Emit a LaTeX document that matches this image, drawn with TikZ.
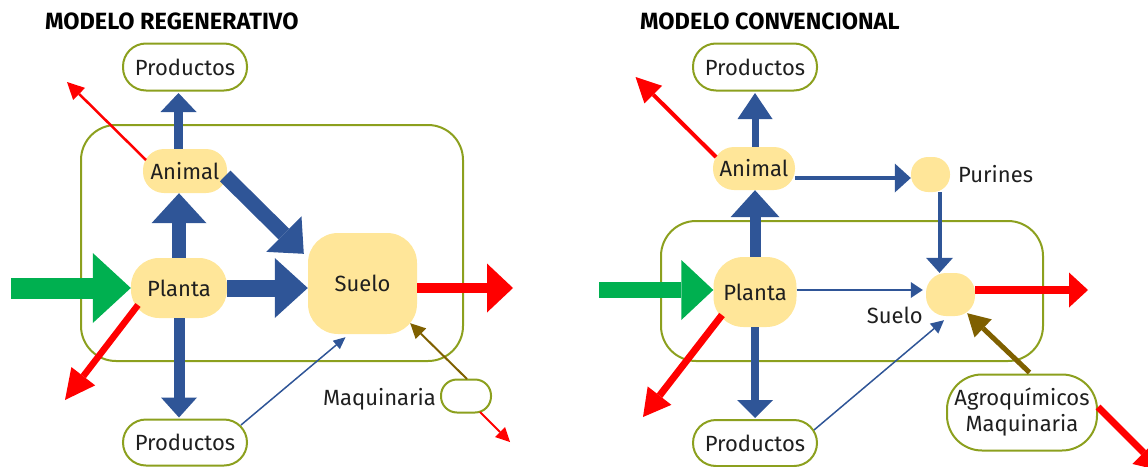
\documentclass[tikz,border=0pt]{standalone}
\usepackage{fontspec}
\setmainfont{Fira Sans}
\usetikzlibrary{arrows.meta,calc}
\definecolor{bl}{HTML}{2F5597}
\definecolor{yl}{HTML}{FFE699}
\definecolor{ol}{HTML}{8CA01E}
\definecolor{gr}{HTML}{00B050}
\definecolor{rd}{HTML}{FF0000}
\definecolor{br}{HTML}{7F6000}
\tikzset{
  arr/.style n args={3}{line width=#1, -{Triangle[length=#2,width=#3,line width=0pt]}},
  yel/.style={fill=yl, draw=none, inner sep=0pt, rounded corners=#1},
  pill/.style={fill=white, draw=ol, line width=2pt, inner sep=0pt, rounded corners=#1},
  sysbox/.style={draw=ol, line width=2pt, inner sep=0pt, rounded corners=35pt},
  title/.style={font=\bfseries\fontsize{23.5}{26}\selectfont, inner sep=0pt, text=black},
  lbl/.style={inner sep=0pt, text=black!88},
}
\begin{document}
\begin{tikzpicture}[x=1pt,y=-1pt, font=\fontsize{22}{26}\selectfont, text=black!88]
\useasboundingbox (0,0) rectangle (1148,466);
% ---------------- left: regenerativo ----------------
\node[title, anchor=west] (t1) at (45,21) {MODELO REGENERATIVO};
\node[sysbox, minimum width=382pt, minimum height=236pt] (sys1) at (272,243) {};
\node[pill=23pt, minimum width=124pt, minimum height=47pt] (prodT1) at (185,67) {Productos};
\node[yel=21pt, minimum width=84pt, minimum height=44pt] (animal1) at (185,171) {Animal};
\node[yel=28pt, minimum width=96pt, minimum height=60pt] (planta1) at (179,288) {Planta};
\node[yel=30pt, minimum width=109pt, minimum height=101pt] (suelo1) at (362.5,283.5) {Suelo};
\node[pill=23pt, minimum width=124pt, minimum height=46pt] (prodB1) at (185,442.5) {Productos};
\node[pill=16pt, minimum width=50pt, minimum height=33pt] (maq1) at (466,396) {};
\node[lbl, anchor=base east] (maqlbl1) at (436,405) {Maquinaria};
\coordinate (sun1) at (11,288);
\coordinate (out1) at (513,288);
\coordinate (loss1) at (65,400);
\coordinate (lossA1) at (67,82);
\coordinate (lossM1) at (510,442);

\draw[bl, arr={9pt}{19pt}{36pt}] ($(animal1.north)+(-6.5,0)$) -- ($(prodT1.south)+(-6.5,1.5)$);
\draw[bl, arr={14pt}{30pt}{55pt}] (planta1.north) -- (planta1.north |- animal1.south);
\draw[bl, arr={15pt}{28pt}{50pt}] ($(animal1.east)+(-2,5)$) -- ($(suelo1.north west)+(-4,21)$);
\draw[bl, arr={17pt}{33pt}{60pt}] (planta1.east) -- (planta1.east -| suelo1.west);
\draw[bl, arr={11pt}{20pt}{36pt}] (planta1.south) -- ($(planta1.south |- prodB1.north)+(0,-1)$);
\draw[gr, arr={21pt}{38pt}{70pt}] (sun1) -- (planta1.west);
\draw[rd, arr={10pt}{26pt}{49pt}] ($(suelo1.east)+(0,4.5)$) -- (out1);
\draw[rd, arr={6.5pt}{30pt}{30pt}] ($(planta1.center)+(-41,17)$) -- (loss1);
\draw[rd, arr={2.5pt}{17pt}{17pt}] ($(animal1.center)+(-39,-11)$) -- (lossA1);
\draw[bl, arr={1.5pt}{12pt}{11pt}] ($(prodB1.center)+(56,-17.5)$) -- ($(suelo1.south)+(-17,3)$);
\draw[br, arr={2pt}{15pt}{15pt}] ($(maq1.center)+(1,-17)$) -- ($(suelo1.south east)+(-7,-11)$);
\draw[rd, arr={2pt}{14pt}{14pt}] ($(maq1.center)+(14,16)$) -- (lossM1);

% ---------------- right: convencional ----------------
\node[title, anchor=west] (t2) at (640,21) {MODELO CONVENCIONAL};
\node[sysbox, minimum width=382pt, minimum height=140pt] (sys2) at (852,291) {};
\node[pill=23pt, minimum width=124pt, minimum height=47pt] (prodT2) at (755,67) {Productos};
\node[yel=21pt, minimum width=82pt, minimum height=43pt] (animal2) at (754,168.5) {Animal};
\node[yel=17pt, minimum width=39pt, minimum height=35pt] (purines2) at (930.5,174.5) {};
\node[lbl, anchor=base west] (purlbl2) at (958,182) {Purines};
\node[yel=30pt, minimum width=83pt, minimum height=70pt] (planta2) at (755,292) {Planta};
\node[yel=20pt, minimum width=49pt, minimum height=43pt] (suelo2) at (950.5,294.5) {};
\node[lbl, anchor=base east] (suelolbl2) at (923,323) {Suelo};
\node[pill=23pt, minimum width=124pt, minimum height=46pt] (prodB2) at (755,443) {Productos};
\node[pill=35pt, minimum width=150pt, minimum height=76pt, align=center] (agro2) at (1022,412.5) {Agroquímicos\\Maquinaria};
\coordinate (sun2) at (599,290);
\coordinate (out2) at (1088,290);
\coordinate (loss2) at (643,417);
\coordinate (lossA2) at (635.5,77);
\coordinate (lossG2) at (1162,471);
\coordinate (pdrop) at ($(purines2.south)+(9,0)$);

\draw[bl, arr={7pt}{26pt}{35pt}] ($(animal2.north)+(1,0)$) -- ($(prodT2.south)+(0,1.5)$);
\draw[bl, arr={11pt}{27pt}{49pt}] (planta2.north) -- (planta2.north |- animal2.south);
\draw[bl, arr={4.5pt}{16pt}{29pt}] ($(animal2.east)+(0,9.5)$) -- ($(purines2.west)+(0,3.5)$);
\draw[bl, arr={4pt}{15pt}{27pt}] (pdrop) -- (pdrop |- suelo2.north);
\draw[bl, arr={1.5pt}{12pt}{16pt}] ($(planta2.east)+(0,-2)$) -- ($(suelo2.west)+(-3,-4.5)$);
\draw[bl, arr={1.5pt}{13pt}{13pt}] ($(prodB2.center)+(59,-13)$) -- ($(suelo2.south)+(-6.5,4)$);
\draw[bl, arr={8pt}{18pt}{36pt}] (planta2.south) -- ($(planta2.south |- prodB2.north)+(0,-1)$);
\draw[gr, arr={16pt}{32pt}{60pt}] (sun2) -- (planta2.west |- sun2);
\draw[rd, arr={8pt}{19pt}{35pt}] ($(suelo2.east)+(0,-4.5)$) -- (out2);
\draw[rd, arr={7pt}{27pt}{30pt}] ($(planta2.center)+(-33,23)$) -- (loss2);
\draw[rd, arr={4pt}{25pt}{25pt}] ($(animal2.center)+(-38,-11.5)$) -- (lossA2);
\draw[br, arr={5pt}{22pt}{25pt}] ($(agro2.north)+(7.5,-1)$) -- ($(suelo2.south east)+(-8,-3)$);
\draw[rd, arr={7pt}{26pt}{32pt}] ($(agro2.east)+(0,-5.5)$) -- (lossG2);
\end{tikzpicture}
\end{document}
